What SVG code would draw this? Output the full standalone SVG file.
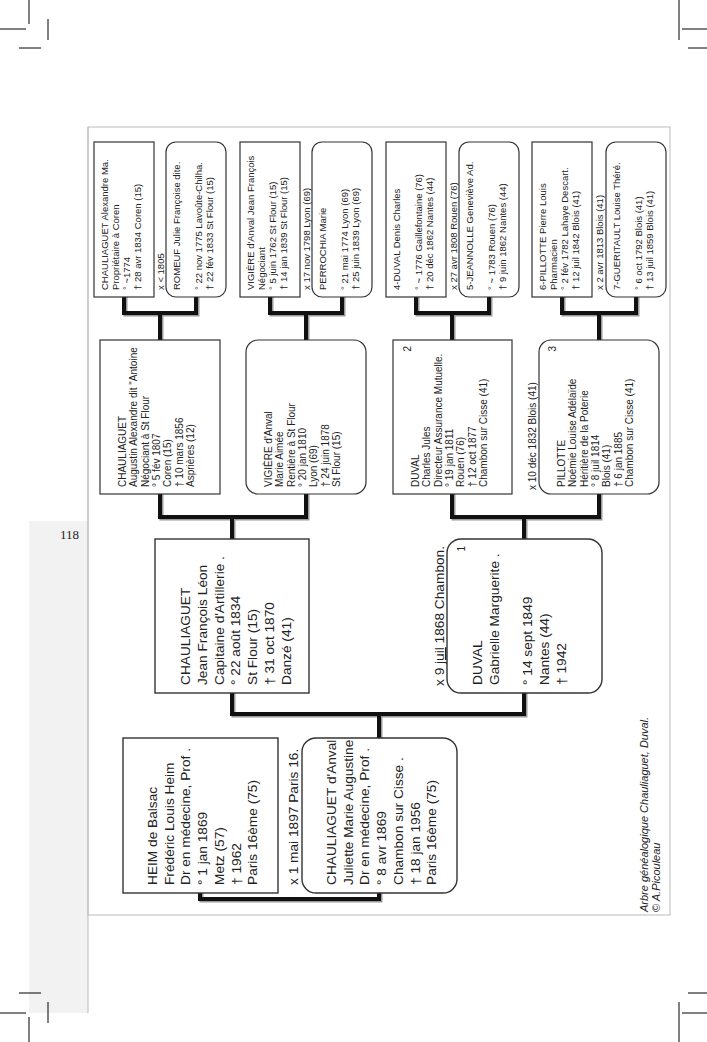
<svg xmlns="http://www.w3.org/2000/svg" width="707" height="1042" viewBox="0 0 707 1042">
<style>
text{font-family:"Liberation Sans",Arial,sans-serif;fill:#222}
.g4{font-size:9.5px}
.g3{font-size:10px}
.g2{font-size:13.7px}
.lbl4{font-size:9.5px}
.num{font-size:10px}
.box{fill:#fff;stroke:#333;stroke-width:1.2}
.box2{fill:#fff;stroke:#333;stroke-width:1.4}
.crop{stroke:#000;stroke-width:1;fill:none}
.conn{fill:none;stroke:#111;stroke-width:4;stroke-linejoin:miter;stroke-linecap:square}
.shadow{fill:none;stroke:#999;stroke-width:4;stroke-linejoin:miter;stroke-linecap:square}
.cap{font-size:11px;font-style:italic}
</style>
<rect width="707" height="1042" fill="#fff"/>
<!-- page margin strip -->
<rect x="29" y="521" width="59" height="492" fill="#f2f2f2"/>
<line x1="88" y1="127" x2="88" y2="1013" stroke="#bbb" stroke-width="1"/>
<text x="79" y="539" text-anchor="end" style="font-family:'Liberation Serif',serif;font-size:13px;fill:#222">118</text>
<!-- crop marks -->
<g class="crop">
<line x1="29" y1="0" x2="29" y2="24"/><line x1="0" y1="29" x2="26" y2="29"/>
<line x1="48" y1="19" x2="48" y2="40"/><line x1="19" y1="48" x2="41" y2="48"/>
<line x1="679" y1="0" x2="679" y2="40"/><line x1="682" y1="29" x2="707" y2="29"/><line x1="688" y1="48" x2="707" y2="48"/>
<line x1="19" y1="993" x2="41" y2="993"/><line x1="48" y1="1002" x2="48" y2="1023"/>
<line x1="0" y1="1013" x2="26" y2="1013"/><line x1="29" y1="1017" x2="29" y2="1042"/>
<line x1="688" y1="993" x2="707" y2="993"/><line x1="682" y1="1013" x2="707" y2="1013"/><line x1="679" y1="1002" x2="679" y2="1042"/>
</g>
<!-- frame -->
<rect x="88" y="127" width="582" height="788" fill="none" stroke="#bbb" stroke-width="1"/>
<!-- connectors -->
<g id="connectors">
<g class="shadow" transform="translate(1.5,1.5)">
<path d="M200,893 V899 H379 V893"/>
<path d="M379,738 V714"/><path d="M232,693 V714 H524 V693"/>
<path d="M232,539 V517"/><path d="M160,494 V517 H306 V494"/>
<path d="M524,539 V517"/><path d="M452,494 V517 H599 V494"/>
<path d="M160,340 V313"/><path d="M124,297 V313 H196 V297"/>
<path d="M306,340 V313"/><path d="M270,297 V313 H342 V297"/>
<path d="M452,340 V313"/><path d="M416,297 V313 H489 V297"/>
<path d="M599,340 V313"/><path d="M562,297 V313 H636 V297"/>
</g>
<g class="conn">
<path d="M200,893 V899 H379 V893"/>
<path d="M379,738 V714"/><path d="M232,693 V714 H524 V693"/>
<path d="M232,539 V517"/><path d="M160,494 V517 H306 V494"/>
<path d="M524,539 V517"/><path d="M452,494 V517 H599 V494"/>
<path d="M160,340 V313"/><path d="M124,297 V313 H196 V297"/>
<path d="M306,340 V313"/><path d="M270,297 V313 H342 V297"/>
<path d="M452,340 V313"/><path d="M416,297 V313 H489 V297"/>
<path d="M599,340 V313"/><path d="M562,297 V313 H636 V297"/>
</g>
</g>
<!-- generation 4 -->
<g id="n-chauliaguet-alexandre">
<rect class="box" x="94" y="142" width="60" height="155"/>
<text class="g4" transform="translate(108,290) rotate(-90)"><tspan x="0" y="0">CHAULIAGUET Alexandre Ma.</tspan><tspan x="0" y="11">Propriétaire à Coren</tspan><tspan x="0" y="22">° ~1774</tspan><tspan x="0" y="33">† 28 avr 1834 Coren (15)</tspan></text>
</g>
<text class="lbl4" transform="translate(164,290) rotate(-90)">x &lt; 1805</text>
<g id="n-romeuf">
<rect class="box" x="166" y="142" width="60" height="155" rx="10"/>
<text class="g4" transform="translate(180,290) rotate(-90)"><tspan x="0" y="0">ROMEUF Julie Françoise dite.</tspan><tspan x="0" y="22">° 22 nov 1775 Lavoûte-Chilha.</tspan><tspan x="0" y="33">† 22 fév 1833 St Flour (15)</tspan></text>
</g>
<g id="n-vigiere-jf">
<rect class="box" x="240" y="142" width="60" height="155"/>
<text class="g4" transform="translate(254,290) rotate(-90)"><tspan x="0" y="0">VIGIÈRE d'Anval Jean François</tspan><tspan x="0" y="11">Négociant</tspan><tspan x="0" y="22">° 5 juin 1762 St Flour (15)</tspan><tspan x="0" y="33">† 14 jan 1839 St Flour (15)</tspan></text>
</g>
<text class="lbl4" transform="translate(310,290) rotate(-90)">x 17 nov 1798 Lyon (69)</text>
<g id="n-perrochia">
<rect class="box" x="312" y="142" width="60" height="155" rx="10"/>
<text class="g4" transform="translate(326,290) rotate(-90)"><tspan x="0" y="0">PERROCHIA Marie</tspan><tspan x="0" y="22">° 21 mai 1774 Lyon (69)</tspan><tspan x="0" y="33">† 25 juin 1839 Lyon (69)</tspan></text>
</g>
<g id="n-duval-denis">
<rect class="box" x="386" y="142" width="60" height="155"/>
<text class="g4" transform="translate(400,290) rotate(-90)"><tspan x="0" y="0">4-DUVAL Denis Charles</tspan><tspan x="0" y="22">° ~ 1776 Gaillefontaine (76)</tspan><tspan x="0" y="33">† 20 déc 1862 Nantes (44)</tspan></text>
</g>
<text class="lbl4" transform="translate(457,290) rotate(-90)">x 27 avr 1808 Rouen (76)</text>
<g id="n-jeannolle">
<rect class="box" x="459" y="142" width="60" height="155" rx="10"/>
<text class="g4" transform="translate(473,290) rotate(-90)"><tspan x="0" y="0">5-JEANNOLLE Geneviève Ad.</tspan><tspan x="0" y="22">° ~ 1783 Rouen (76)</tspan><tspan x="0" y="33">† 9 juin 1862 Nantes (44)</tspan></text>
</g>
<g id="n-pillotte-pierre">
<rect class="box" x="532" y="142" width="60" height="155"/>
<text class="g4" transform="translate(546,290) rotate(-90)"><tspan x="0" y="0">6-PILLOTTE Pierre Louis</tspan><tspan x="0" y="11">Pharmacien</tspan><tspan x="0" y="22">° 2 fév 1782 Lahaye Descart.</tspan><tspan x="0" y="33">† 12 juil 1842 Blois (41)</tspan></text>
</g>
<text class="lbl4" transform="translate(603,290) rotate(-90)">x 2 avr 1813 Blois (41)</text>
<g id="n-gueritault">
<rect class="box" x="606" y="142" width="60" height="155" rx="10"/>
<text class="g4" transform="translate(620,290) rotate(-90)"><tspan x="0" y="0">7-GUERITAULT Louise Théré.</tspan><tspan x="0" y="22">° 6 oct 1792 Blois (41)</tspan><tspan x="0" y="33">† 13 juil 1859 Blois (41)</tspan></text>
</g>
<!-- generation 3 -->
<g id="n-chauliaguet-augustin">
<rect class="box" x="100" y="340" width="120" height="154"/>
<text class="g3" transform="translate(126,487) rotate(-90)"><tspan x="0" y="0">CHAULIAGUET</tspan><tspan x="0" y="11.3">Augustin Alexandre dit "Antoine</tspan><tspan x="0" y="22.6">Négociant à St Flour</tspan><tspan x="0" y="33.9">° 5 fév 1807</tspan><tspan x="0" y="45.2">Coren (15)</tspan><tspan x="0" y="56.5">† 10 mars 1856</tspan><tspan x="0" y="67.8">Asprières (12)</tspan></text>
</g>
<g id="n-vigiere-marie">
<rect class="box" x="246" y="340" width="120" height="154" rx="12"/>
<text class="g3" transform="translate(272,487) rotate(-90)"><tspan x="0" y="0">VIGIÈRE d'Anval</tspan><tspan x="0" y="11.3">Marie Aimée</tspan><tspan x="0" y="22.6">Rentière à St Flour</tspan><tspan x="0" y="33.9">° 20 jan 1810</tspan><tspan x="0" y="45.2">Lyon (69)</tspan><tspan x="0" y="56.5">† 24 juin 1878</tspan><tspan x="0" y="67.8">St Flour (15)</tspan></text>
</g>
<g id="n-duval-charles">
<rect class="box" x="393" y="340" width="119" height="154"/>
<text class="num" transform="translate(411,346) rotate(-90)" text-anchor="end">2</text>
<text class="g3" transform="translate(419,487) rotate(-90)"><tspan x="0" y="0">DUVAL</tspan><tspan x="0" y="11.3">Charles Jules</tspan><tspan x="0" y="22.6">Directeur Assurance Mutuelle.</tspan><tspan x="0" y="33.9">° 19 jan 1811</tspan><tspan x="0" y="45.2">Rouen (76)</tspan><tspan x="0" y="56.5">† 12 oct 1877</tspan><tspan x="0" y="67.8">Chambon sur Cisse (41)</tspan></text>
</g>
<text class="g3" transform="translate(536,490) rotate(-90)">x 10 déc 1832 Blois (41)</text>
<g id="n-pillotte-noemie">
<rect class="box" x="539" y="340" width="120" height="154" rx="12"/>
<text class="num" transform="translate(556,346) rotate(-90)" text-anchor="end">3</text>
<text class="g3" transform="translate(565,487) rotate(-90)"><tspan x="0" y="0">PILLOTTE</tspan><tspan x="0" y="11.3">Noémie Louise Adélaïde</tspan><tspan x="0" y="22.6">Héritière de la Poterie</tspan><tspan x="0" y="33.9">° 8 juil 1814</tspan><tspan x="0" y="45.2">Blois (41)</tspan><tspan x="0" y="56.5">† 6 jan 1885</tspan><tspan x="0" y="67.8">Chambon sur Cisse (41)</tspan></text>
</g>
<!-- generation 2 -->
<g id="n-chauliaguet-jean">
<rect class="box2" x="155" y="539" width="154" height="154"/>
<text class="g2" transform="translate(190,685) rotate(-90)"><tspan x="0" y="0">CHAULIAGUET</tspan><tspan x="0" y="16.8">Jean François Léon</tspan><tspan x="0" y="33.6">Capitaine d'Artillerie .</tspan><tspan x="0" y="50.4">° 22 août 1834</tspan><tspan x="0" y="67.2">St Flour (15)</tspan><tspan x="0" y="84">† 31 oct 1870</tspan><tspan x="0" y="100.8">Danzé (41)</tspan></text>
</g>
<text class="g2" transform="translate(444,686) rotate(-90)">x 9 <tspan text-decoration="underline">juil</tspan> 1868 Chambon.</text>
<g id="n-duval-gabrielle">
<rect class="box2" x="447" y="539" width="155" height="154" rx="14"/>
<text class="num" transform="translate(465,546) rotate(-90)" text-anchor="end">1</text>
<text class="g2" transform="translate(482,685) rotate(-90)"><tspan x="0" y="0">DUVAL</tspan><tspan x="0" y="16.8">Gabrielle Marguerite .</tspan><tspan x="0" y="50.4">° 14 sept 1849</tspan><tspan x="0" y="67.2">Nantes (44)</tspan><tspan x="0" y="84">† 1942</tspan></text>
</g>
<!-- generation 1 -->
<g id="n-heim">
<rect class="box2" x="123" y="738" width="155" height="155"/>
<text class="g2" transform="translate(157,885) rotate(-90)"><tspan x="0" y="0">HEIM de Balsac</tspan><tspan x="0" y="16.7">Frédéric Louis Heim</tspan><tspan x="0" y="33.4">Dr en médecine, Prof .</tspan><tspan x="0" y="50.1">° 1 jan 1869</tspan><tspan x="0" y="66.8">Metz (57)</tspan><tspan x="0" y="83.5">† 1962</tspan><tspan x="0" y="100.2">Paris 16ème (75)</tspan></text>
</g>
<text class="g2" transform="translate(298,885) rotate(-90)">x 1 mai 1897 Paris 16.</text>
<g id="n-chauliaguet-juliette">
<rect class="box2" x="302" y="738" width="155" height="155" rx="14"/>
<text class="g2" transform="translate(336,885) rotate(-90)"><tspan x="0" y="0">CHAULIAGUET d'Anval</tspan><tspan x="0" y="16.7">Juliette Marie Augustine</tspan><tspan x="0" y="33.4">Dr en médecine, Prof .</tspan><tspan x="0" y="50.1">° 8 avr 1869</tspan><tspan x="0" y="66.8">Chambon sur Cisse .</tspan><tspan x="0" y="83.5">† 18 jan 1956</tspan><tspan x="0" y="100.2">Paris 16ème (75)</tspan></text>
</g>
<!-- caption -->
<text class="cap" transform="translate(648,912) rotate(-90)"><tspan x="0" y="0">Arbre généalogique Chauliaguet, Duval.</tspan><tspan x="0" y="12">© A.Picouleau</tspan></text>
</svg>
